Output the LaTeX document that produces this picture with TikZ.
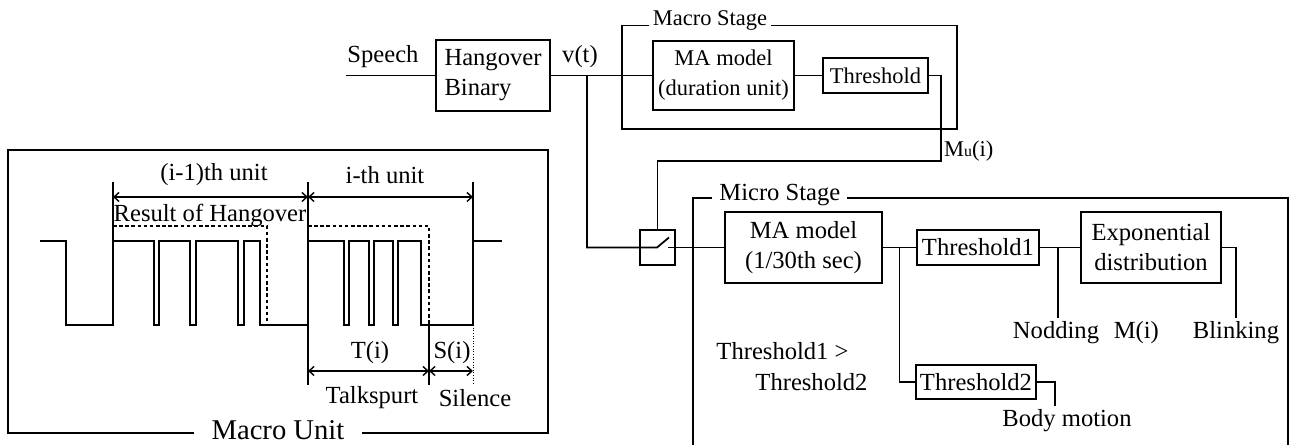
\documentclass[tikz,border=0pt]{standalone}
\usepackage{fontspec}
\setmainfont{Liberation Serif}
\usetikzlibrary{positioning, calc}
\usetikzlibrary{arrows.meta}
\tikzset{blockbox/.style={draw, line width=1pt, inner sep=0pt, align=center}}
\tikzset{wire/.style={line width=1pt}}
\tikzset{wave/.style={line width=0.8pt}}
\tikzset{dimarrow/.style={{Straight Barb[length=1mm, width=1.8mm]}-{Straight Barb[length=1mm, width=1.8mm]}, line width=0.8pt}}
\tikzset{txt/.style={font=\fontsize{14}{17}\selectfont}}
\tikzset{txtsmall/.style={font=\fontsize{12.8}{17}\selectfont}}
\tikzset{framelbl/.style={fill=white, inner sep=2pt}}

\begin{document}
\begin{tikzpicture}[x=0.02cm, y=-0.02cm]
		\useasboundingbox (0,0) rectangle (1292,445);
		
		% EINGANG
		\node[blockbox, txt, align=left, minimum width=2.28cm, minimum height=1.42cm] (hang) at (493,75.5) {Hangover\\Binary};
		\node[txt] (speech) at (383,57) {Speech};
		\node[txt] (vt) at (580,57) {v(t)};
		\coordinate (speechin) at (346,75.5);
		\coordinate (vtsplit) at (587,75.5);
		\draw[wire] (speechin) -- (hang.west);
		
		% MACRO STAGE
		\draw[wire] (622,25.5) rectangle (957,129);
		\node[txtsmall, framelbl, anchor=base west] (macstage) at (649,26) {Macro Stage};
		\node[blockbox, txtsmall, minimum width=2.82cm, minimum height=1.38cm] (mamac) at (723.5,75.5) {MA model\\(duration unit)};
		\node[blockbox, txtsmall, minimum width=2.1cm, minimum height=0.7cm] (thr) at (875.5,75.5) {Threshold};
		\draw[wire] (hang.east) -- (mamac.west);
		\draw[wire] (mamac.east) -- (thr.west);
		
		% SCHALTER
		\node[blockbox, minimum width=0.7cm, minimum height=0.7cm] (sw) at (657.5,247.5) {};
		\coordinate (swin) at (657,247.5);
		\coordinate (swout) at (668,247.5);
		\coordinate (mu) at (941,161);
		\draw[wire] (vtsplit) |- (swin) -- ++(12,-10);
		\draw[wire] (thr.east) -| (mu) -| (sw.north);
		\node[txtsmall, anchor=west, inner sep=1pt] (mulbl) at (942,151) {M{\fontsize{9}{10}\selectfont u}(i)};
		
		% MICRO STAGE
		\draw[wire] (693,460) -- (693,198) -- (1288,198) -- (1288,460);
		\node[txt, framelbl, inner xsep=4pt, anchor=west] (micstage) at (712,195) {Micro Stage};
		\node[blockbox, txt, minimum width=3.14cm, minimum height=1.42cm] (mamic) at (803.5,247.5) {MA model\\(1/30th sec)};
		\node[blockbox, txt, minimum width=2.44cm, minimum height=0.7cm] (thr1) at (978,247.5) {Threshold1};
		\node[blockbox, txt, minimum width=2.8cm, minimum height=1.42cm] (expo) at (1151,247.5) {Exponential\\distribution};
		\node[blockbox, txt, minimum width=2.4cm, minimum height=0.68cm] (thr2) at (976,382) {Threshold2};
		\draw[wire] (swout) -- (mamic.west);
		
		\coordinate (split1) at ($(mamic.east)!0.5!(thr1.west)$);
		\draw[wire] (mamic.east) -- (thr1.west);
		\draw[wire] (split1) |- (thr2.west);
		\draw[wire] (thr1.east) -- (expo.west);
		
		\node[txt, inner sep=2pt] (nod) at (1056,333) {Nodding};
		\node[txt, inner sep=2pt, anchor=base west] (mi) at ([xshift=4pt]nod.base east) {M(i)};
		\node[txt, inner sep=2pt] (blink) at (1236,333) {Blinking};
		\node[txt, inner sep=2pt] (body) at (1067,421) {Body motion};
		\coordinate (nodin) at (1058,247.5);
		\coordinate (bodyin) at (1055,382);
		\draw[wire] (nodin) -- (nodin |- nod.north);
		\draw[wire] (expo.east) -| (blink.north);
		\draw[wire] (thr2.east) -| (bodyin |- body.north);
		
		\node[font=\fontsize{14}{17.6}\selectfont, align=left] (cmp) at (792,367) {Threshold1 >\\\hspace*{0.78cm}Threshold2};
		
		% MACRO UNIT
		\draw[wire] (8,150) rectangle (548,433);
		\node[font=\fontsize{16.3}{19}\selectfont, fill=white, inner ysep=1.5pt, inner xsep=10pt, anchor=base] (munit) at (278,440) {Macro Unit};
		
		\draw[wave] (40,241) \foreach \x/\y in {66/325,113/241,154/325,159/241,190/325,196/241,238/325,244/241,260/325,308/241,344/325,349/241,369/325,374/241,393/325,398/241,421/325,473/241} { -| (\x,\y) } -- (502,241);
		\draw[wave, dash pattern=on 2pt off 1.5pt] (113,226) -| (267,325);
		\draw[wave, dash pattern=on 2pt off 1.5pt] (308,226) -| (429,325);
		
		\draw[wave] (113,182) -- (113,241);
		\draw[wave] (308,182) -- (308,385);
		\draw[wave] (473,182) -- (473,241);
		\draw[wave] (429,325) -- (429,385);
		\draw[line width=0.5pt, densely dotted] (473,325) -- (473,385);
		
		\draw[dimarrow] (113,197) -- (308,197);
		\draw[dimarrow] (308,197) -- (473,197);
		\draw[dimarrow] (308,371) -- (429,371);
		\draw[dimarrow] (429,371) -- (473,371);
		
		\node[txt] (prevunit) at (214,175) {(i-1)th unit};
		\node[txt] (curunit) at (385,175) {i-th unit};
		\node[txt] (hangres) at (210,215) {Result of Hangover};
		\node[txt] (ti) at (370,353) {T(i)};
		\node[txt] (si) at (452,353) {S(i)};
		\node[txt] (talk) at (372,398) {Talkspurt};
		\node[txt] (sil) at (475,398) {Silence};
		
	\end{tikzpicture}
\end{document}
